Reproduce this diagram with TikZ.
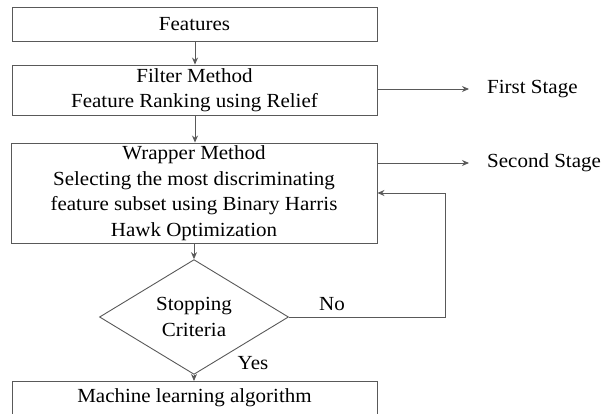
\documentclass[tikz,border=0pt]{standalone}
\usepackage{fontspec}
\setmainfont{Liberation Serif}[FakeStretch=1.05]
\usetikzlibrary{shapes.geometric,arrows.meta}

\begin{document}
\begin{tikzpicture}[x=1pt,y=-1pt,
    font=\fontsize{20}{25.5}\selectfont,
    line/.style={draw=black!65, line width=0.9pt},
    flow/.style={line, -{Stealth[length=7pt,width=6pt]}},
    procbox/.style={line, rectangle, align=center, inner sep=0pt},
    decision/.style={line, diamond, align=center, inner sep=0pt,
        minimum width=189pt, minimum height=84pt},
    label/.style={inner sep=0pt, anchor=west}]
  \useasboundingbox (0,0) rectangle (602,414);
  \clip (0,0) rectangle (602,414);

  % process boxes
  \node[procbox, minimum width=365pt, minimum height=34pt] (feat) at (194.5,24) {Features};
  \node[procbox, minimum width=365pt, minimum height=50pt] (filter) at (194.5,90)
    {Filter Method\\Feature Ranking using Relief};
  \node[procbox, minimum width=366pt, minimum height=100pt] (wrap) at (194,193)
    {Wrapper Method\\Selecting the most discriminating\\feature subset using Binary Harris\\Hawk Optimization};
  \node[decision] (stop) at (194,317) {Stopping\\Criteria};
  \node[procbox, minimum width=365pt, minimum height=70pt, anchor=north] (ml) at (194.5,381) {};
  \node (mltext) at (194.5,398) {Machine learning algorithm};

  % stage labels
  \node[label] (first) at (487,89) {First Stage};
  \node[label] (second) at (487,163) {Second Stage};
  \coordinate (firstend) at (469,89);
  \coordinate (secondend) at (469,163);

  % main flow
  \draw[flow] (feat.south -| 195,0) -- (filter.north -| 195,0);
  \draw[flow] (filter.south -| 195,0) -- (wrap.north -| 195,0);
  \draw[flow] (wrap.south -| 194,0) -- (stop.north);
  \draw[flow] (stop.south) -- (ml.north -| stop.south);

  % stage arrows
  \draw[flow] (filter.east |- firstend) -- (firstend);
  \draw[flow] (wrap.east |- secondend) -- (secondend);

  % loop back when the criteria are not met
  \coordinate (loopc) at (445,193);
  \draw[flow] (stop.east) -- (stop.east -| loopc) -- (loopc) -- (wrap.east |- loopc);

  \node (no) at (332,304) {No};
  \node (yes) at (253,363) {Yes};
\end{tikzpicture}
\end{document}
